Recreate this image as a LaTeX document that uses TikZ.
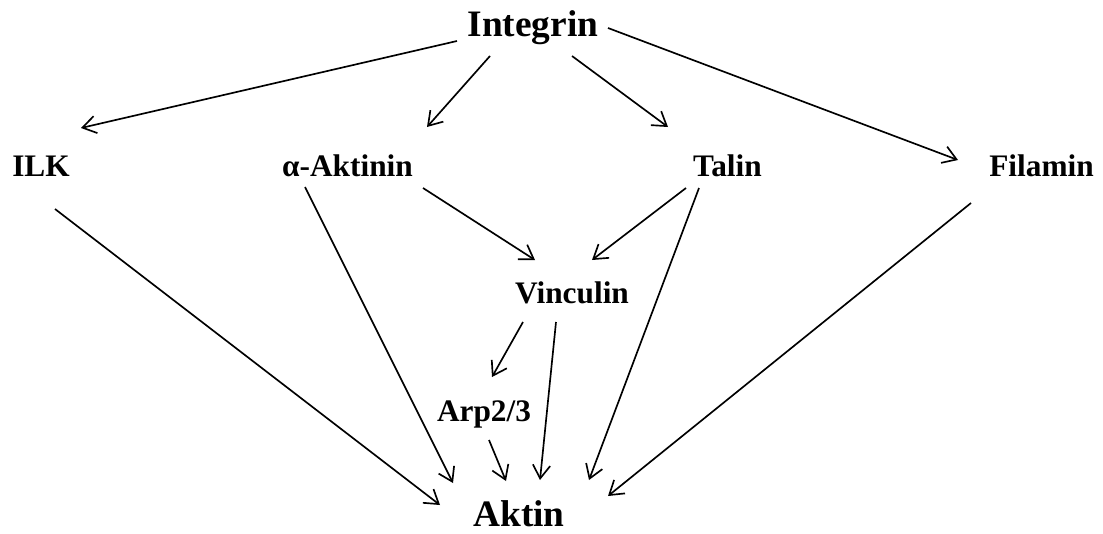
\documentclass[tikz,border=0pt]{standalone}
\usepackage{fontspec}
\setmainfont{Liberation Serif}
\usetikzlibrary{arrows.meta}

\begin{document}
\begin{tikzpicture}[x=0.75pt,y=-0.75pt]
\tikzstyle{every node}+=[inner sep=0pt, anchor=base]
\tikzstyle{big}=[font=\fontsize{28}{32}\selectfont\bfseries]
\tikzstyle{prot}=[font=\fontsize{23.5}{27}\selectfont\bfseries]
\tikzstyle{link}=[black, line width=1.25pt, -{Straight Barb[length=10pt,width=13pt]}]
\useasboundingbox (0,0) rectangle (1103,533);
% proteins
\node [big] (intg) at (533,36) {Integrin};
\node [prot] (ilk) at (41,176) {ILK};
\node [prot] (aact) at (347.5,176) {α-Aktinin};
\node [prot] (talin) at (727.5,176) {Talin};
\node [prot] (flmn) at (1041.5,176) {Filamin};
\node [prot] (vinc) at (572,303) {Vinculin};
\node [prot] (arp) at (484,421) {Arp2/3};
\node [big] (aktin) at (519,526) {Aktin};
% from integrin
\draw [link] ([shift={(-76,5)}]intg.base) -- ([shift={(40,-48)}]ilk.base);
\draw [link] ([shift={(-43,20)}]intg.base) -- ([shift={(79.5,-49)}]aact.base);
\draw [link] ([shift={(39,20)}]intg.base) -- ([shift={(-59.5,-49)}]talin.base);
\draw [link] ([shift={(75,-8)}]intg.base) -- ([shift={(-83.5,-16)}]flmn.base);
% to vinculin
\draw [link] ([shift={(75.5,12)}]aact.base) -- ([shift={(-37,-43)}]vinc.base);
\draw [link] ([shift={(-41.5,12)}]talin.base) -- ([shift={(20,-43)}]vinc.base);
\draw [link] ([shift={(-49,19)}]vinc.base) -- ([shift={(8,-44)}]arp.base);
% to aktin
\draw [link] ([shift={(14,33)}]ilk.base) -- ([shift={(-79,-21)}]aktin.base);
\draw [link] ([shift={(-42.5,11)}]aact.base) -- ([shift={(-66,-43)}]aktin.base);
\draw [link] ([shift={(5,19)}]arp.base) -- ([shift={(-13,-45)}]aktin.base);
\draw [link] ([shift={(-16,19)}]vinc.base) -- ([shift={(21,-46)}]aktin.base);
\draw [link] ([shift={(-28.5,12)}]talin.base) -- ([shift={(70,-46)}]aktin.base);
\draw [link] ([shift={(-70.5,27)}]flmn.base) -- ([shift={(89,-30)}]aktin.base);
\end{tikzpicture}
\end{document}
